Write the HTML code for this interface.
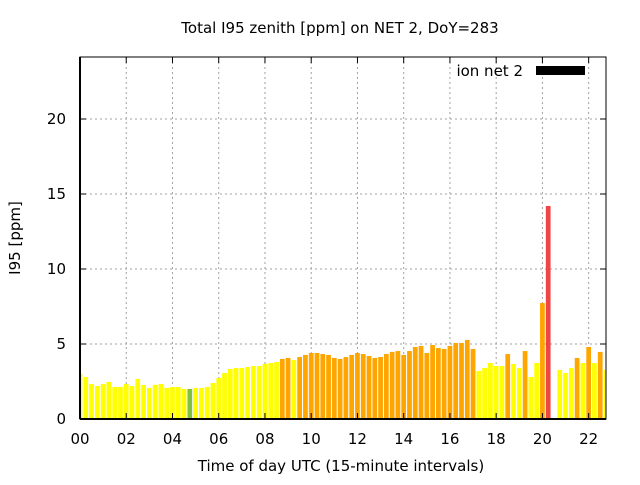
<!DOCTYPE html>
<html><head><meta charset="utf-8"><style>
body{margin:0;background:#fff;}
svg text{font-family:"DejaVu Sans","Liberation Sans",sans-serif;}
</style></head><body>
<svg id="chart" width="640" height="480" xmlns="http://www.w3.org/2000/svg">
<rect x="0" y="0" width="640" height="480" fill="#fff"/>
<g id="grid"></g>
<g id="bars"></g>
<g id="axes"></g>
<text x="340" y="33" font-size="15" text-anchor="middle">Total I95 zenith [ppm] on NET 2, DoY=283</text>
<text x="20" y="238" font-size="15" text-anchor="middle" transform="rotate(-90 20 238)">I95 [ppm]</text>
<text x="341" y="471" font-size="15" text-anchor="middle">Time of day UTC (15-minute intervals)</text>
<g>
<text x="523" y="76" font-size="15" text-anchor="end">ion net 2</text>
<rect x="536" y="66" width="49" height="9" fill="#000"/>
</g>
</svg>
<script>
const values=[3.0,2.8,2.33,2.2,2.33,2.47,2.13,2.13,2.33,2.2,2.67,2.27,2.07,2.27,2.33,2.07,2.13,2.13,2.0,2.0,2.07,2.07,2.13,2.4,2.73,3.07,3.33,3.4,3.4,3.47,3.53,3.53,3.67,3.73,3.8,4.0,4.07,3.93,4.13,4.27,4.4,4.4,4.33,4.27,4.07,4.0,4.13,4.27,4.4,4.33,4.2,4.07,4.13,4.33,4.47,4.53,4.27,4.53,4.8,4.87,4.4,4.93,4.73,4.67,4.87,5.07,5.07,5.27,4.67,3.2,3.4,3.73,3.53,3.53,4.33,3.67,3.4,4.53,2.8,3.73,7.73,14.2,0,3.27,3.07,3.4,4.07,3.73,4.8,3.73,4.47,3.27];
const classes=("yyyyyyyyyyyyyyyyyyy"+"g"+"yyyyyyyyyyyyyyy"+"ooy"+"ooooooooooooooooooooooooooooooo"+"yyyyy"+"o"+"yy"+"o"+"yy"+"o"+"r"+"y"+"yyy"+"o"+"y"+"o"+"y"+"o"+"y").split("");
const xTicks=[0,2,4,6,8,10,12,14,16,18,20,22];
const xTickLabels=["00","02","04","06","08","10","12","14","16","18","20","22"];
const yTicks=[0,5,10,15,20];
const colorMap={y:"#ffff00",o:"#ffa500",g:"#80c040",r:"#f04545"};
const L=80,R=606,T=57,B=419,XMAX=22.75,YMAX=24.13;
const sx=h=>L+(h/XMAX)*(R-L);
const sy=v=>B-(v/YMAX)*(B-T);
const NS="http://www.w3.org/2000/svg";
function mk(tag,attrs,parent){const e=document.createElementNS(NS,tag);for(const k in attrs)e.setAttribute(k,attrs[k]);parent.appendChild(e);return e;}
const grid=document.getElementById("grid"),bars=document.getElementById("bars"),axes=document.getElementById("axes");
xTicks.forEach((t,i)=>{
 const x=sx(t);
 if(t>0){const g=mk("line",{x1:x,x2:x,y1:T,y2:B,stroke:"#a0a0a0","stroke-dasharray":"2,3"},grid);
 
 }
 const tk=mk("path",{d:`M${x},${B}v-6M${x},${T}v6`,stroke:"#000"},axes);
 
 
 const tx=mk("text",{x:x,y:444,"font-size":15,"text-anchor":"middle"},axes);
 tx.textContent=xTickLabels[i];
 
 
});
yTicks.forEach(v=>{
 const y=sy(v);
 if(v>0){const g=mk("line",{x1:L,x2:R,y1:y,y2:y,stroke:"#a0a0a0","stroke-dasharray":"2,3"},grid);
 
 }
 const tk=mk("path",{d:`M${L},${y}h6M${R},${y}h-6`,stroke:"#000"},axes);
 
 
 const tx=mk("text",{x:66,y:y+5,"font-size":15,"text-anchor":"end"},axes);
 tx.textContent=String(v);
 
 
});
const bw=(sx(0.25)-sx(0))*0.82;
values.forEach((v,i)=>{
 if(v<=0)return;
 const cx=sx(i*0.25);
 let x0=Math.max(L,cx-bw/2),x1=Math.min(R,cx+bw/2);
 const r=mk("rect",{x:x0,y:sy(v),width:x1-x0,height:B-sy(v),fill:colorMap[classes[i]]||"#ffff00"},bars);
 
 
});
const fr=mk("rect",{x:L,y:T,width:R-L,height:B-T,fill:"none",stroke:"#000","stroke-width":1},axes);


const base=mk("line",{x1:L,x2:R,y1:B,y2:B,stroke:"#000","stroke-width":2},axes);


const yl=mk("line",{x1:L,x2:L,y1:T,y2:B,stroke:"#000","stroke-width":2},axes);


</script>
</body></html>
